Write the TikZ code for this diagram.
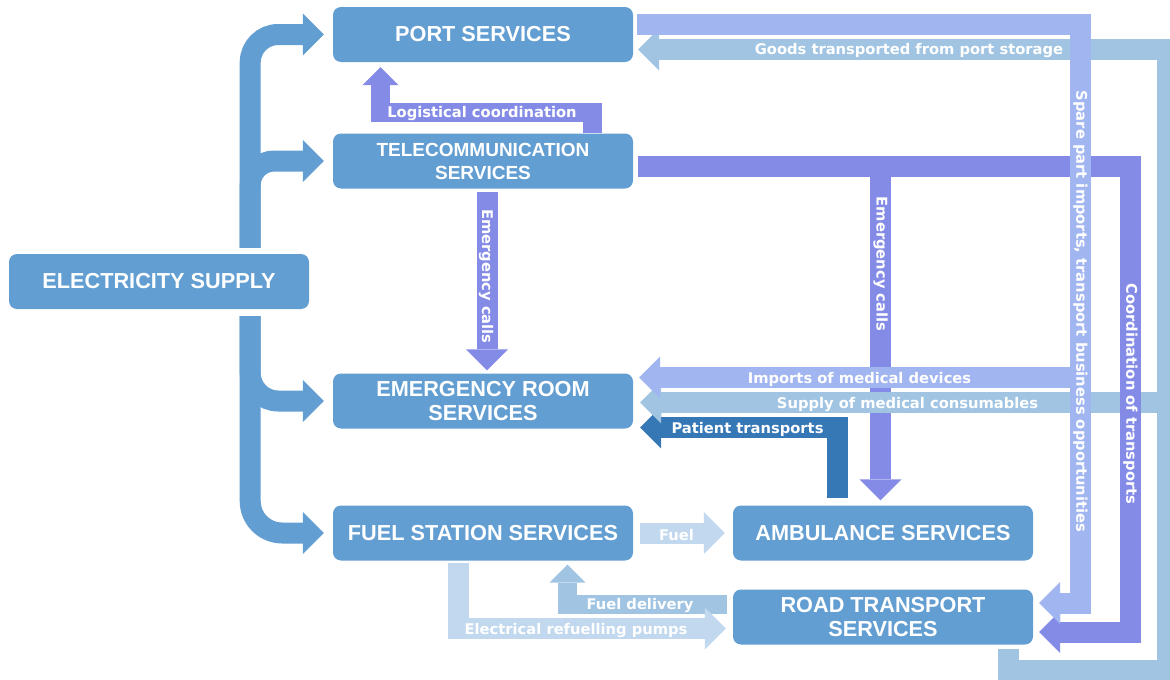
\documentclass[tikz,border=0pt]{standalone}
\usepackage{fontspec}
\setmainfont{Liberation Sans}
\newfontfamily\lblfont{DejaVu Sans}
\usetikzlibrary{arrows.meta}

\definecolor{boxblue}{RGB}{98,158,209}
\definecolor{telepurple}{RGB}{132,139,230}
\definecolor{lilac}{RGB}{161,181,240}
\definecolor{skyblue}{RGB}{160,196,226}
\definecolor{patientblue}{RGB}{54,119,181}
\definecolor{paleblue}{RGB}{193,216,238}

\begin{document}
\begin{tikzpicture}[x=1pt, y=-1pt,
    box/.style={fill=boxblue, rounded corners=8pt, minimum width=300pt, minimum height=55pt,
      align=center, text=white, inner sep=0pt, font=\fontsize{21.7}{24}\selectfont\bfseries},
    mainband/.style={draw=boxblue, line width=21pt, -{Triangle[width=42pt,length=21pt,line width=0pt]}},
    band/.style={line width=21pt, -{Triangle[width=42pt,length=21pt,line width=0pt]}},
    thinband/.style={line width=19pt, -{Triangle[width=36pt,length=18pt,line width=0pt]}},
    lbl/.style={text=white, inner sep=0pt, yshift=-1.5pt, font=\lblfont\fontsize{14.7}{16}\selectfont\bfseries},
  ]
    \useasboundingbox (0,0) rectangle (1170,680);
    \clip (0,0) rectangle (1170,680);

    \node[box] (port) at (483,34.5) {PORT SERVICES};
    \node[box, font=\fontsize{19}{23}\selectfont\bfseries] (tele) at (483,161) {TELECOMMUNICATION\\SERVICES};
    \node[box] (elec) at (159,281.5) {ELECTRICITY SUPPLY};
    \node[box] (er) at (483,401) {EMERGENCY ROOM\\SERVICES};
    \node[box] (fuel) at (483,533) {FUEL STATION SERVICES};
    \node[box] (amb) at (883,533) {AMBULANCE SERVICES};
    \node[box] (road) at (883,617) {ROAD TRANSPORT\\SERVICES};

    % electricity supply
    \draw[mainband, rounded corners=28pt] ([xshift=-59pt,yshift=6pt]elec.north east) |- ([xshift=-9pt]port.west);
    \draw[mainband, rounded corners=24pt] ([xshift=-59pt,yshift=6pt]elec.north east) |- ([xshift=-9pt]tele.west);
    \draw[mainband, rounded corners=28pt] ([xshift=-59pt,yshift=-7pt]elec.south east) |- ([xshift=-9pt]er.west);
    \draw[mainband, rounded corners=32pt] ([xshift=-59pt,yshift=-7pt]elec.south east) |- ([xshift=-9pt]fuel.west);

    % goods from port storage
    \draw[band, draw=skyblue] ([xshift=-24.5pt,yshift=-4pt]road.south east) |- (1167,670) |- ([xshift=5pt,yshift=-15pt]port.east);

    % emergency calls to ambulance
    \draw[band, draw=telepurple] ([xshift=5pt,yshift=-5pt]tele.east) -| ([xshift=-2.5pt,yshift=5pt]amb.north);

    % patient transports
    \draw[band, draw=patientblue] ([xshift=-45.5pt,yshift=7pt]amb.north) |- ([xshift=7pt,yshift=-26.5pt]er.east);

    % medical consumables
    \coordinate (supplyjoin) at (1167,402.5);
    \draw[band, draw=skyblue] (supplyjoin) -- ([xshift=7pt,yshift=-1.5pt]er.east);

    % coordination of transports
    \draw[band, draw=telepurple] ([xshift=5pt,yshift=-5pt]tele.east) -| (1130.5,632) -- ([xshift=6pt,yshift=-15pt]road.east);

    % spare parts, medical devices
    \draw[band, draw=lilac] ([xshift=4pt,yshift=10pt]port.east) -| (1080.5,603) -- ([xshift=6pt,yshift=14pt]road.east);
    \coordinate (importsjoin) at (1080.5,377.5);
    \draw[band, draw=lilac] (importsjoin) -- ([xshift=6pt,yshift=23.5pt]er.east);

    % fuel
    \draw[band, draw=paleblue] ([xshift=7pt]fuel.east) -- ([xshift=-8pt]amb.west);
    \draw[thinband, draw=skyblue] ([xshift=-6pt,yshift=13pt]road.west) -| ([xshift=84.5pt,yshift=-4pt]fuel.south);
    \draw[band, draw=paleblue] ([xshift=-25pt,yshift=-2pt]fuel.south) |- ([xshift=-7pt,yshift=-11.5pt]road.west);

    % telecommunication
    \draw[band, draw=telepurple] ([xshift=4pt,yshift=-3pt]tele.south) -- ([xshift=4pt,yshift=3pt]er.north);
    \draw[thinband, draw=telepurple] ([xshift=-40.5pt]tele.north east) |- (380.5,112.5) -- ([xshift=-102.5pt,yshift=-5pt]port.south);

    % labels
    \node[lbl] (goodslbl) at (909,49.5) {Goods transported from port storage};
    \node[lbl] (logilbl) at (482,112.5) {Logistical coordination};
    \node[lbl] (importslbl) at (859.5,377.5) {Imports of medical devices};
    \node[lbl] (supplylbl) at (907.5,402.5) {Supply of medical consumables};
    \node[lbl] (patientlbl) at (747.5,427.5) {Patient transports};
    \node[lbl] (fuellbl) at (676.5,533.5) {Fuel};
    \node[lbl] (deliverylbl) at (640,604) {Fuel delivery};
    \node[lbl] (pumpslbl) at (576,628.5) {Electrical refuelling pumps};
    \node[lbl, rotate=-90] (callslbl) at (486,275) {Emergency calls};
    \node[lbl, rotate=-90] (ambcallslbl) at (880.5,262.5) {Emergency calls};
    \node[lbl, rotate=-90] (sparelbl) at (1080.5,310) {Spare part imports, transport business opportunities};
    \node[lbl, rotate=-90] (coordlbl) at (1130.5,392.5) {Coordination of transports};
\end{tikzpicture}
\end{document}
